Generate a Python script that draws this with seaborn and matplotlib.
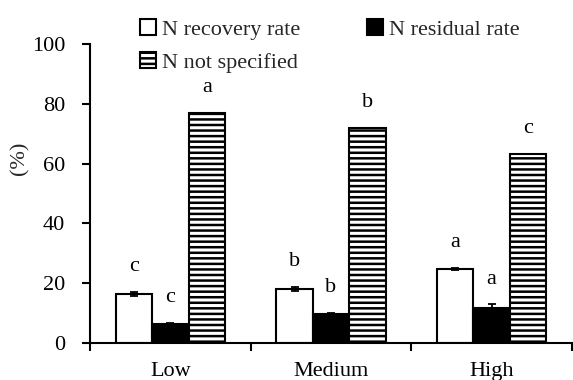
import matplotlib
matplotlib.use('Agg')
import matplotlib.pyplot as plt
import seaborn as sns
import pandas as pd
from matplotlib.patches import Patch

categories = ['Low', 'Medium', 'High']
series = ['N recovery rate', 'N residual rate', 'N not specified']
recovery = [16.5, 18.0, 24.8]
recovery_err = [0.7, 0.6, 0.4]
residual = [6.5, 9.7, 11.7]
residual_err = [0.3, 0.2, 1.2]
not_specified = [77.0, 72.0, 63.3]
letters_recovery = ['c', 'b', 'a']
letters_residual = ['c', 'b', 'a']
letters_not_specified = ['a', 'b', 'c']
yticks = [0, 20, 40, 60, 80, 100]

sns.set_theme(style='ticks')
plt.rcParams['font.family'] = ['Liberation Serif', 'DejaVu Serif']
plt.rcParams['hatch.linewidth'] = 1.8
plt.rcParams['hatch.color'] = 'black'

df = pd.DataFrame({
    'Level': categories * 3,
    'Series': [s for s in series for _ in categories],
    'Value': recovery + residual + not_specified,
})
errs = {series[0]: recovery_err, series[1]: residual_err, series[2]: None}
letters = {series[0]: letters_recovery, series[1]: letters_residual, series[2]: letters_not_specified}
vals = {series[0]: recovery, series[1]: residual, series[2]: not_specified}

FS = 16
fig = plt.figure(figsize=(5.73, 3.80), dpi=100)
ax = fig.add_axes([90 / 573, 37 / 380, 482 / 573, 299 / 380])
sns.barplot(data=df, x='Level', y='Value', hue='Series', order=categories,
            hue_order=series, palette=['white', 'black', 'white'], saturation=1,
            width=0.68, edgecolor='black', linewidth=1.5, errorbar=None,
            legend=False, ax=ax)

patches = sorted([p for p in ax.patches if p.get_height() > 0], key=lambda p: p.get_x())
for i, p in enumerate(patches):
    ci, si = i // 3, i % 3
    s = series[si]
    xc = p.get_x() + p.get_width() / 2
    v = vals[s][ci]
    e = errs[s][ci] if errs[s] is not None else 0
    if si == 2:
        p.set_hatch('---')
    if errs[s] is not None:
        ax.errorbar(xc, v, yerr=e, fmt='none', ecolor='black', elinewidth=1.3,
                    capsize=3, capthick=1.3, zorder=5)
    ax.text(xc, v + e + 8.5, letters[s][ci], ha='center', va='center', fontsize=FS, color='black')

ax.set_ylim(0, 100)
ax.set_yticks(yticks)
ax.set_yticklabels([str(t) for t in yticks], fontsize=FS)
ax.set_xlim(-0.5, 2.5)
ax.set_xticks([-0.5, 0.5, 1.5, 2.5])
ax.set_xticklabels([])
ax.set_xticks([0, 1, 2], minor=True)
ax.set_xticklabels(categories, minor=True, fontsize=FS)
ax.tick_params(axis='x', which='major', length=6, width=1.5, direction='out', color='black')
ax.tick_params(axis='x', which='minor', length=0, pad=14, labelcolor='black')
ax.tick_params(axis='y', length=6, width=1.5, direction='out', pad=12, color='black', labelcolor='black')
ax.set_xlabel('')
ax.set_ylabel('')
for sp in ['top', 'right']:
    ax.spines[sp].set_visible(False)
for sp in ['left', 'bottom']:
    ax.spines[sp].set_linewidth(1.5)
    ax.spines[sp].set_color('black')

fig.text(20 / 573, 1 - 158 / 380, '(%)', rotation=90, ha='center', va='center', fontsize=FS)

handles = [Patch(facecolor='white', edgecolor='black', linewidth=1.5),
           Patch(facecolor='white', edgecolor='black', linewidth=1.5, hatch='---'),
           Patch(facecolor='black', edgecolor='black', linewidth=1.5)]
labels = [series[0], series[2], series[1]]
fig.legend(handles, labels, ncol=2, loc='upper left', bbox_to_anchor=(140 / 573, 1 - 19 / 380),
           frameon=False, fontsize=FS, handlelength=0.7, handleheight=0.7,
           handletextpad=0.3, columnspacing=3.0, labelspacing=0.58, borderpad=0, borderaxespad=0)

fig.savefig('out.png', dpi=100)
